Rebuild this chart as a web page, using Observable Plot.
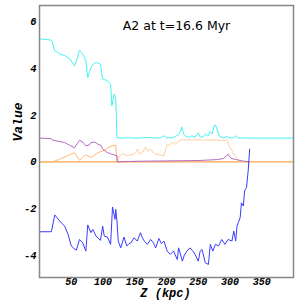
<!DOCTYPE html>
<html><head><meta charset="utf-8">
<script src="https://cdn.jsdelivr.net/npm/d3@7"></script>
<script src="https://cdn.jsdelivr.net/npm/@observablehq/plot@0.6"></script>
<style>body{margin:0;background:#fff}</style>
</head><body><div id="chart"></div>
<script>
const title = "A2 at t=16.6 Myr";
const xLabel = "Z (kpc)";
const yLabel = "Value";
const xTicks = [50, 100, 150, 200, 250, 300, 350];
const yTicks = [-4, -2, 0, 2, 4, 6];

const cyanZ = [0,18,20,24,28,32,40,48,55,58,63,68,73,76,78,81,85,89,93,96,99.5,103,107,112,114,116,117.6,120,121,122,130,140,150,160,170,180,190,196,200,210,218,222,224,227,230,235,240,245,250,253,258,262,265,269,272,275,277,279,283,290,295,298,305,309,312,330,400];
const cyanV = [5.27,5.22,5.15,4.76,4.7,4.62,4.55,4.4,4.12,4.3,4.79,4.62,4.33,3.62,3.8,4.05,4.2,4.26,4.22,4.19,3.55,3.52,3.48,3.33,2.4,2.7,2.9,2.76,2.0,1.04,1.02,1.04,1.02,1.03,1.05,1.02,1.03,1.12,1.03,1.04,1.15,1.3,1.5,1.2,1.1,1.05,1.12,1.05,1.25,1.05,1.1,1.2,1.1,1.3,1.2,1.55,1.58,1.45,1.1,1.03,1.1,1.03,1.03,1.12,1.03,1.02,1.02];

const purpleZ = [0,18,21,30,39.6,47,55,63,68,73,78,81,87,92,97,99.5,103,107,112,117.6,122,122.5,140,160,190,220,250,280,290,297,302,310,320,330];
const purpleV = [1.02,1.0,0.93,0.88,0.83,0.72,0.61,0.93,0.85,0.69,0.72,0.83,0.85,0.76,0.7,0.55,0.48,0.4,0.35,0.3,0.26,0.0,0.02,0.03,0.04,0.05,0.06,0.1,0.15,0.33,0.15,0.1,0.04,0.0];

const orangeZ = [0,20,30,39.6,47,55,63,68,73,81,87,92,99.5,105,110,116,120,122];
const orangeV = [0,0,0.1,0.21,0.3,0.4,0.07,0.2,0.3,0.19,0.3,0.4,0.47,0.55,0.64,0.7,0.72,0.0];

const peachZ = [122,126,131,137,144,150,154,157,162,167,171,175,179,183,190,196,201,205,209,214,218,222,240,260,280,295,300,304,308,312,316,330];
const peachV = [0.0,0.25,0.36,0.28,0.3,0.35,0.55,0.33,0.4,0.64,0.45,0.55,0.4,0.33,0.3,0.26,0.76,0.7,0.83,0.76,0.85,0.94,0.95,0.94,0.93,0.92,0.61,0.45,0.26,0.12,0.01,0.0];

const blueZ = [0,18.75,24,28,31.7,35,39.5,45,50,54,58,63,68,73,76,81,84,89,92,96,99.5,102,107,112,115,119,120,122,124,128,133,137.5,141,144,149,154,159,162,165,170,175,179,183,188,192,196,201,206,211,217,219,225,228,232,237,241,245,250,253,256,261,266,269,273,277,282,287,292,297,303,306,309,311,313,316,318,321,323,326,328.6,331];
const blueV = [-2.99,-2.99,-2.27,-2.4,-2.53,-2.62,-2.75,-3.1,-3.6,-3.7,-3.78,-3.32,-3.46,-3.82,-2.7,-3.03,-2.89,-3.18,-3.25,-3.36,-2.75,-3.18,-3.22,-3.53,-1.93,-2.46,-2.03,-2.53,-3.39,-3.68,-3.22,-3.6,-3.5,-3.46,-3.25,-3.39,-3.03,-3.25,-3.39,-3.53,-3.32,-3.45,-3.68,-3.28,-3.5,-3.39,-3.82,-3.96,-3.82,-4.18,-3.68,-4.25,-4.0,-3.82,-3.68,-3.8,-3.96,-4.25,-3.82,-3.75,-4.32,-4.39,-3.53,-3.82,-3.53,-3.6,-3.32,-3.53,-3.32,-3.39,-2.96,-3.39,-2.75,-2.6,-2.39,-1.75,-1.89,-1.24,-1.1,-0.39,0.55];

const zeroZ = [0, 400];
const zeroV = [0, 0];

const toRows = (zs, vs) => zs.map((z, i) => ({z, v: vs[i]}));
const monoBI = {fontFamily: "Liberation Mono", fontWeight: "bold", fontStyle: "italic"};

const chart = Plot.plot({
  width: 299, height: 300,
  marginLeft: 39, marginRight: 6, marginTop: 5, marginBottom: 23,
  style: {fontFamily: "Liberation Mono", background: "#fff"},
  x: {domain: [0, 400]},
  y: {domain: [-4.95, 6.7]},
  marks: [
    Plot.line(toRows(zeroZ, zeroV), {x: "z", y: "v", stroke: "#ffa64d", strokeWidth: 1.2}),
    Plot.line(toRows(peachZ, peachV), {x: "z", y: "v", stroke: "#ffd0a0", strokeWidth: 1}),
    Plot.line(toRows(orangeZ, orangeV), {x: "z", y: "v", stroke: "#ffb870", strokeWidth: 1}),
    Plot.line(toRows(purpleZ, purpleV), {x: "z", y: "v", stroke: "#b36ac4", strokeWidth: 1}),
    Plot.line(toRows(cyanZ, cyanV), {x: "z", y: "v", stroke: "#44f4f4", strokeWidth: 1}),
    Plot.line(toRows(blueZ, blueV), {x: "z", y: "v", stroke: "#3c3cff", strokeWidth: 1}),
    Plot.axisX(xTicks, {tickSize: 0, tickPadding: 0, label: null, tickFormat: d => String(d), fontSize: 10, ...monoBI}),
    Plot.axisY(yTicks, {tickSize: 0, tickPadding: 3, label: null, tickFormat: d => String(d), fontSize: 10.5, ...monoBI}),
    Plot.frame({stroke: "#888", strokeWidth: 1.5}),
    Plot.text([title], {frameAnchor: "top", dx: 10, dy: 16, fontFamily: "DejaVu Sans", fontWeight: 500, fontSize: 12.5, fill: "#000"}),
    Plot.text([yLabel], {frameAnchor: "left", rotate: -90, dx: -22, fontSize: 13, ...monoBI}),
    Plot.text([xLabel], {frameAnchor: "bottom", dy: 19, dx: -1, fontSize: 12, ...monoBI})
  ]
});
document.getElementById("chart").appendChild(chart);
</script>
</body></html>
